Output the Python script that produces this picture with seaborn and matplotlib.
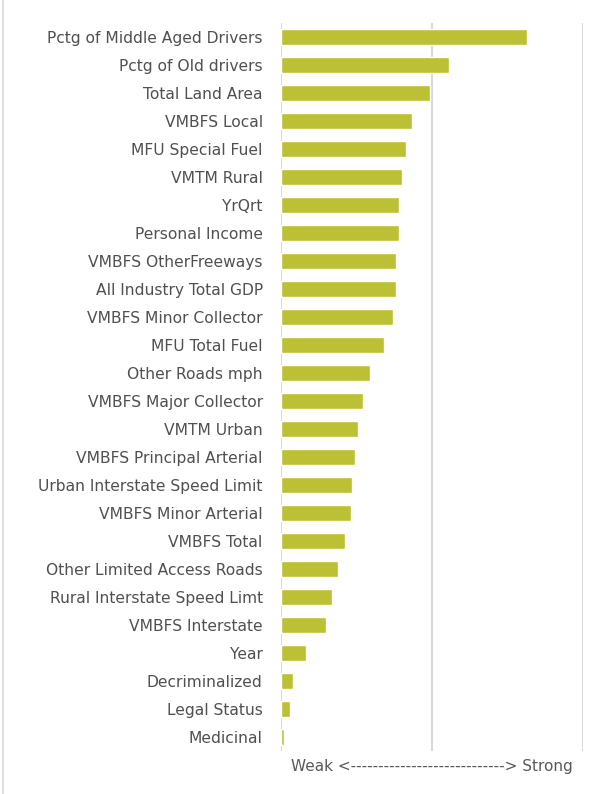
import pandas as pd
import seaborn as sns
import matplotlib.pyplot as plt

features = [
    'Pctg of Middle Aged Drivers', 'Pctg of Old drivers', 'Total Land Area',
    'VMBFS Local', 'MFU Special Fuel', 'VMTM Rural', 'YrQrt', 'Personal Income',
    'VMBFS OtherFreeways', 'All Industry Total GDP', 'VMBFS Minor Collector',
    'MFU Total Fuel', 'Other Roads mph', 'VMBFS Major Collector', 'VMTM Urban',
    'VMBFS Principal Arterial', 'Urban Interstate Speed Limit',
    'VMBFS Minor Arterial', 'VMBFS Total', 'Other Limited Access Roads',
    'Rural Interstate Speed Limt', 'VMBFS Interstate', 'Year',
    'Decriminalized', 'Legal Status', 'Medicinal',
]
importance = [
    0.815, 0.555, 0.492, 0.434, 0.414, 0.402, 0.392, 0.392,
    0.382, 0.382, 0.371, 0.340, 0.294, 0.272, 0.257,
    0.246, 0.235, 0.231, 0.214, 0.188,
    0.168, 0.151, 0.084, 0.041, 0.031, 0.011,
]

df = pd.DataFrame({'feature': features, 'importance': importance})

sns.set_style('white')
plt.rcParams['font.family'] = ['DejaVu Sans']

fig = plt.figure(figsize=(5.97, 7.94), dpi=100)
ax = fig.add_axes([280.7 / 597, 1 - 751 / 794, (583.3 - 280.7) / 597, (751 - 23) / 794])

sns.barplot(data=df, x='importance', y='feature', color='#BCC034',
            width=0.54, saturation=1, ax=ax, zorder=3)

ax.set_xlim(0, 1)
ax.set_ylim(len(features) - 0.5, -0.5)
for x in [0, 0.5, 1.0]:
    ax.axvline(x, color='#D9D9D9', lw=1.5, zorder=1)
ax.set_xticks([])
ax.set_ylabel('')
ax.set_xlabel('Weak <----------------------------> Strong', color='#595959',
              fontsize=11, labelpad=6)
ax.tick_params(axis='y', length=0, pad=13, labelsize=11.2, labelcolor='#505050')
for s in ax.spines.values():
    s.set_visible(False)

# left edge of the chart frame
fig.add_artist(plt.Line2D([3 / 597, 3 / 597], [0, 1], color='#D9D9D9', lw=1.2))

fig.savefig('out.png', dpi=100)
